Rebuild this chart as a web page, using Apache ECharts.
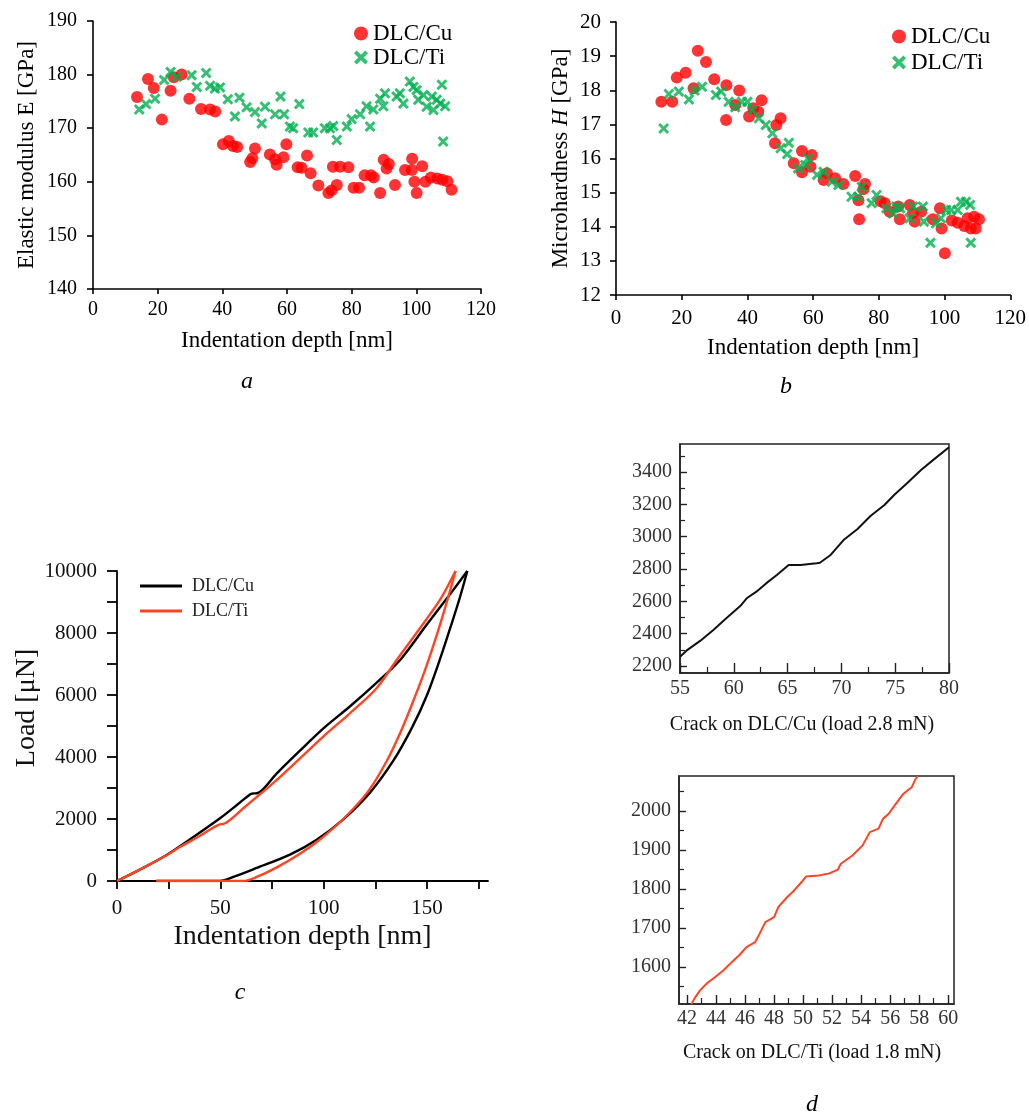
<!DOCTYPE html>
<html>
<head>
<meta charset="utf-8">
<script src="https://cdn.jsdelivr.net/npm/echarts@6/dist/echarts.min.js"></script>
<style>
  html, body { margin: 0; padding: 0; background: #fff; }
  #chart { width: 1029px; height: 1115px; }
</style>
</head>
<body>
<div id="chart"></div>
<script>
const SERIF = '"Liberation Serif", "Times New Roman", serif';

// (a) elastic modulus, [indentation depth nm, E GPa]
const modulusCu = [
  [13.6,175.8],[17.0,179.2],[18.8,177.5],[21.3,171.6],[24.0,177.0],[25.0,179.5],[27.4,180.0],
  [29.8,175.5],[33.4,173.6],[36.2,173.5],[37.8,173.1],[40.2,167.0],[42.0,167.6],[43.3,166.7],
  [44.6,166.5],[48.6,163.7],[49.3,164.4],[50.1,166.2],[54.7,165.1],[56.3,164.2],[56.8,163.2],
  [58.9,164.6],[59.8,167.0],[63.3,162.7],[64.5,162.6],[66.2,164.9],[67.3,161.6],[69.7,159.3],
  [72.8,157.9],[73.8,158.4],[74.2,162.8],[75.4,159.4],[76.4,162.8],[79.0,162.7],[80.6,158.9],
  [82.3,158.9],[84.0,161.2],[86.0,161.2],[86.8,160.8],[88.8,157.9],[89.9,164.1],[90.8,162.5],
  [91.5,163.3],[93.4,159.4],[96.5,162.2],[98.6,162.2],[98.7,164.3],[99.4,160.0],[100.1,157.9],
  [101.8,162.9],[102.8,160.0],[104.5,160.8],[106.5,160.6],[108.0,160.4],[109.6,160.1],[110.9,158.5]
];
const modulusTi = [
  [14.3,173.5],[16.4,174.5],[19.2,175.5],[22.0,179.0],[24.0,180.5],[25.9,179.6],[30.5,179.9],
  [32.1,177.7],[35.0,180.3],[36.2,177.9],[37.7,177.4],[39.3,177.6],[41.7,175.4],[43.9,172.2],
  [45.3,175.7],[47.5,173.9],[50.1,173.0],[52.2,170.9],[53.2,174.0],[56.3,172.6],[58.0,175.9],
  [59.1,172.6],[60.9,170.3],[61.9,170.0],[63.8,174.5],[66.6,169.2],[68.1,169.2],[71.7,170.0],
  [73.3,170.0],[74.3,170.4],[75.4,167.8],[78.5,170.3],[80.0,171.7],[82.6,172.6],[84.6,174.1],
  [85.7,170.3],[86.7,173.5],[88.8,175.5],[89.8,174.1],[90.3,176.5],[93.9,175.9],[94.9,176.5],
  [96.0,174.6],[98.0,178.7],[99.1,177.7],[100.1,177.1],[100.6,175.3],[102.2,176.2],[103.2,174.0],
  [104.8,175.9],[105.3,173.4],[106.3,175.3],[107.4,174.6],[107.9,178.1],[108.3,167.5],[108.9,174.1]
];

// (b) microhardness, [indentation depth nm, H GPa]
const hardnessCu = [
  [13.8,17.66],[17.1,17.66],[18.5,18.37],[21.2,18.51],[23.6,18.06],[24.9,19.16],[27.4,18.83],
  [29.9,18.32],[33.5,17.13],[33.6,18.15],[36.3,17.57],[37.5,17.99],[40.5,17.23],[41.8,17.47],
  [43.3,17.37],[44.3,17.71],[48.4,16.45],[48.8,16.98],[50.1,17.18],[54.1,15.86],[56.6,16.22],
  [56.6,15.60],[59.2,15.76],[59.6,16.10],[63.2,15.37],[64.2,15.57],[66.7,15.42],[69.2,15.25],
  [72.8,15.49],[73.8,14.78],[74.0,14.22],[75.3,15.10],[75.8,15.25],[80.5,14.75],[81.8,14.69],
  [83.3,14.44],[85.9,14.59],[86.4,14.22],[89.4,14.64],[90.4,14.40],[90.9,14.15],[92.9,14.44],
  [96.4,14.22],[98.6,14.54],[99.1,13.95],[100.1,13.22],[102.2,14.18],[104.0,14.12],[106.0,14.02],
  [107.0,14.25],[108.0,13.95],[109.0,14.29],[109.5,13.95],[110.5,14.22]
];
const hardnessTi = [
  [14.5,16.88],[16.1,17.89],[19.1,17.96],[22.2,17.73],[23.9,17.99],[26.2,18.10],[30.4,17.86],
  [32.0,17.96],[34.3,17.66],[36.3,17.50],[38.3,17.66],[40.0,17.66],[41.5,17.42],[43.5,17.18],
  [45.6,16.98],[47.6,16.74],[50.1,16.30],[52.1,16.13],[52.6,16.46],[55.4,15.71],[57.6,15.81],
  [58.4,16.00],[61.2,15.52],[63.2,15.61],[65.7,15.32],[67.7,15.22],[71.7,14.88],[73.8,14.88],
  [74.8,15.17],[77.8,14.69],[79.3,14.93],[82.3,14.54],[84.3,14.39],[85.3,14.59],[86.5,14.54],
  [89.4,14.25],[90.4,14.59],[93.4,14.59],[93.7,14.15],[95.7,13.53],[97.4,14.10],[98.9,14.25],
  [100.5,14.49],[102.0,14.49],[104.0,14.49],[105.0,14.73],[106.5,14.73],[107.8,14.64],[108.0,13.53]
];

// (c) load–displacement curves, [depth nm, load µN]
const loadingCu = [
  [0,0],[12,400],[24,840],[37,1420],[50,2030],[58,2450],[64.5,2800],[66,2825],[67.8,2830],[77,3450],
  [88,4170],[100,4930],[112.5,5620],[125,6360],[137,7130],[150,8280],[160,9150],[169.5,10000]
];
const unloadingCu = [
  [19,0],[49.8,0],[56.3,130],[67.6,420],[83.7,850],[96.6,1330],[109.5,1990],[122.4,2850],
  [133.7,3880],[142.6,4930],[150,6000],[157,7300],[162,8320],[166,9170],[169.5,10000]
];
const loadingTi = [
  [0,0],[12,400],[24,830],[30,1080],[40,1450],[49.8,1830],[51.5,1840],[61,2340],[77.3,3260],
  [99.8,4660],[112.7,5410],[125.6,6220],[135.3,7130],[150,8470],[157,9150],[163.8,10000]
];
const unloadingTi = [
  [19,0],[61.1,0],[67.6,130],[77.3,440],[88.5,880],[98.2,1340],[109.5,2000],[121.6,2900],
  [130.5,3870],[137.7,4880],[144.2,5950],[149.8,6950],[155.5,8100],[159.8,9050],[163.8,10000]
];

// (d) pop-in segments of the loading curves: [depth nm, load µN]
const crackCu = [
  [55.0,2258],[55.6,2295],[56.9,2357],[58.1,2423],[59.3,2495],[60.6,2571],[61.2,2619],
  [62.1,2660],[63.0,2711],[64.0,2763],[65.1,2825],[66.2,2825],[67.7,2835],[68.0,2839],
  [69.0,2887],[70.2,2979],[71.5,3047],[72.7,3128],[74.0,3196],[74.9,3258],[76.1,3330],
  [77.4,3412],[78.6,3478],[80.0,3553]
];
const crackTi = [
  [42.3,1504],[42.5,1518],[42.9,1540],[43.4,1559],[43.9,1573],[44.5,1591],[45.1,1613],
  [45.6,1630],[46.1,1651],[46.7,1664],[47.0,1685],[47.4,1715],[48.0,1728],[48.3,1754],
  [48.9,1779],[49.4,1797],[49.9,1818],[50.2,1832],[51.1,1835],[51.8,1840],[52.4,1850],
  [52.6,1865],[53.4,1886],[54.1,1912],[54.6,1946],[55.2,1955],[55.5,1980],[55.9,1993],
  [56.4,2019],[56.9,2044],[57.5,2062],[57.7,2079],[57.9,2090]
];

// tick positions for the panels with custom ticks
const ticksC_x = [0,25,50,75,100,125,150,175];
const labelsC_x = [0,50,100,150];
const ticksC_y = [0,1000,2000,3000,4000,5000,6000,7000,8000,9000,10000];
const labelsC_y = [0,2000,4000,6000,8000,10000];
const ticksD1_x = [55,60,65,70,75,80];
const minorD1_x = [57.5,62.5,67.5,72.5,77.5];
const ticksD1_y = [2200,2400,2600,2800,3000,3200,3400];
const minorD1_y = [2300,2500,2700,2900,3100,3300,3500];
const ticksD2_x = [42,44,46,48,50,52,54,56,58,60];
const minorD2_x = [43,45,47,49,51,53,55,57,59];
const ticksD2_y = [1600,1700,1800,1900,2000];
const minorD2_y = [1550,1650,1750,1850,1950,2050];

const RED = '#ff0000';
const GREEN = '#00b050';
const ORANGE = '#ff4422';
// filled "x" marker outline
const CROSS = 'path://M1.9,0L5,3.1L8.1,0L10,1.9L6.9,5L10,8.1L8.1,10L5,6.9L1.9,10L0,8.1L3.1,5L0,1.9Z';

const font = (size, color) => ({ fontFamily: SERIF, fontSize: size, color: color || '#000' });
const line = (w, c) => ({ lineStyle: { color: c || '#000', width: w } });
const plainNumber = v => String(v);

function plainAxis(o) {
  return Object.assign({
    type: 'value',
    splitLine: { show: false },
    axisLine: Object.assign({ show: true, onZero: false }, line(1.6)),
    axisTick: Object.assign({ show: true, length: 5 }, line(1.6))
  }, o);
}

// overlay axis that draws only short minor ticks
function minorAxis(o, values, len) {
  return Object.assign({
    type: 'value',
    splitLine: { show: false },
    axisLine: { show: false, onZero: false },
    axisLabel: { show: false },
    axisTick: Object.assign({ show: true, inside: true, length: len, customValues: values }, line(1.2, '#222'))
  }, o);
}

const stripKey = n => n.replace(/^\S+ /, '');

function curve(name, data, color) {
  return {
    type: 'line', name: name, xAxisIndex: 2, yAxisIndex: 2, data: data,
    symbol: 'none', smooth: 0.3, color: color,
    lineStyle: { color: color, width: 2.4 }, silent: true
  };
}

const option = {
  animation: false,
  backgroundColor: '#fff',
  grid: [
    { left: 93, top: 21, width: 388, height: 268 },
    { left: 616, top: 22, width: 397, height: 273 },
    { left: 117, top: 571, width: 371, height: 310 },
    { left: 680, top: 444, width: 269, height: 229, show: true, borderColor: '#222', borderWidth: 1.5 },
    { left: 679, top: 776, width: 275, height: 228, show: true, borderColor: '#222', borderWidth: 1.5 }
  ],
  xAxis: [
    plainAxis({ gridIndex: 0, min: 0, max: 120, interval: 20,
      axisLabel: Object.assign({ margin: 11 }, font(20)),
      name: 'Indentation depth [nm]', nameLocation: 'middle', nameGap: 40, nameTextStyle: font(23) }),
    plainAxis({ gridIndex: 1, min: 0, max: 120, interval: 20,
      axisLabel: Object.assign({ margin: 13 }, font(21)),
      name: 'Indentation depth [nm]', nameLocation: 'middle', nameGap: 41, nameTextStyle: font(23) }),
    plainAxis({ gridIndex: 2, min: 0, max: 179.5,
      axisLine: Object.assign({ show: true, onZero: false }, line(1.8)),
      axisTick: Object.assign({ show: true, length: 8, customValues: ticksC_x }, line(1.8)),
      axisLabel: Object.assign({ margin: 17, customValues: labelsC_x, formatter: plainNumber }, font(21, '#111')),
      name: 'Indentation depth [nm]', nameLocation: 'middle', nameGap: 42, nameTextStyle: font(28, '#111') }),
    plainAxis({ gridIndex: 3, min: 55, max: 80,
      axisLine: Object.assign({ show: true, onZero: false }, line(1.5, '#222')),
      axisTick: Object.assign({ show: true, inside: true, length: 10, customValues: ticksD1_x }, line(1.4, '#222')),
      axisLabel: Object.assign({ margin: 6, customValues: ticksD1_x, formatter: plainNumber }, font(20, '#333')) }),
    plainAxis({ gridIndex: 4, min: 41.45, max: 60.4,
      axisLine: Object.assign({ show: true, onZero: false }, line(1.5, '#222')),
      axisTick: Object.assign({ show: true, inside: true, length: 9, customValues: ticksD2_x }, line(1.4, '#222')),
      axisLabel: Object.assign({ margin: 5, customValues: ticksD2_x, formatter: plainNumber }, font(20, '#333')) }),
    minorAxis({ gridIndex: 3, min: 55, max: 80, position: 'bottom' }, minorD1_x, 6),
    minorAxis({ gridIndex: 4, min: 41.45, max: 60.4, position: 'bottom' }, minorD2_x, 6)
  ],
  yAxis: [
    plainAxis({ gridIndex: 0, min: 140, max: 190, interval: 10,
      axisTick: Object.assign({ show: true, length: 6 }, line(1.6)),
      axisLabel: Object.assign({ margin: 16 }, font(20)),
      name: 'Elastic modulus E [GPa]', nameLocation: 'middle', nameGap: 55, nameTextStyle: font(23) }),
    plainAxis({ gridIndex: 1, min: 12, max: 20, interval: 1,
      axisTick: Object.assign({ show: true, length: 6 }, line(1.6)),
      axisLabel: Object.assign({ margin: 15 }, font(21)),
      name: 'Microhardness {i|H} [GPa]', nameLocation: 'middle', nameGap: 44,
      nameTextStyle: Object.assign({ rich: { i: Object.assign({ fontStyle: 'italic' }, font(23)) } }, font(23)) }),
    plainAxis({ gridIndex: 2, min: 0, max: 10000,
      axisLine: Object.assign({ show: true, onZero: false }, line(1.8)),
      axisTick: Object.assign({ show: true, length: 10, customValues: ticksC_y }, line(1.8)),
      axisLabel: Object.assign({ margin: 20, customValues: labelsC_y, formatter: plainNumber }, font(21, '#111')),
      name: 'Load [μN]', nameLocation: 'middle', nameGap: 76,
      nameTextStyle: Object.assign({ padding: [0, 0, 0, 36] }, font(28, '#111')) }),
    plainAxis({ gridIndex: 3, min: 2157, max: 3573,
      axisLine: Object.assign({ show: true, onZero: false }, line(1.5, '#222')),
      axisTick: Object.assign({ show: true, inside: true, length: 7, customValues: ticksD1_y }, line(1.4, '#222')),
      axisLabel: Object.assign({ margin: 8, customValues: ticksD1_y, formatter: plainNumber }, font(20, '#333')) }),
    minorAxis({ gridIndex: 3, min: 2157, max: 3573, position: 'left' }, minorD1_y, 5),
    plainAxis({ gridIndex: 4, min: 1505, max: 2090,
      axisLine: Object.assign({ show: true, onZero: false }, line(1.5, '#222')),
      axisTick: Object.assign({ show: true, inside: true, length: 7, customValues: ticksD2_y }, line(1.4, '#222')),
      axisLabel: Object.assign({ margin: 8, customValues: ticksD2_y, formatter: plainNumber }, font(20, '#333')) }),
    minorAxis({ gridIndex: 4, min: 1505, max: 2090, position: 'left' }, minorD2_y, 5)
  ],
  legend: [
    { left: 349, top: 17, orient: 'vertical', itemWidth: 14, itemHeight: 14, itemGap: 1,
      data: ['modulus DLC/Cu', 'modulus DLC/Ti'], formatter: stripKey, textStyle: font(23),
      selectedMode: false },
    { left: 887, top: 20, orient: 'vertical', itemWidth: 14, itemHeight: 14, itemGap: 3,
      data: ['hardness DLC/Cu', 'hardness DLC/Ti'], formatter: stripKey, textStyle: font(23),
      selectedMode: false },
    { left: 135, top: 572, orient: 'vertical', itemWidth: 42, itemHeight: 3, itemGap: 7, icon: 'rect',
      data: ['load DLC/Cu', 'load DLC/Ti'], formatter: stripKey,
      textStyle: Object.assign({ padding: [0, 0, 0, 5] }, font(18, '#222')),
      selectedMode: false }
  ],
  series: [
    { type: 'scatter', name: 'modulus DLC/Cu', xAxisIndex: 0, yAxisIndex: 0, data: modulusCu,
      symbol: 'circle', symbolSize: 12, itemStyle: { color: RED }, silent: true },
    { type: 'scatter', name: 'modulus DLC/Ti', xAxisIndex: 0, yAxisIndex: 0, data: modulusTi,
      symbol: CROSS, symbolSize: 11, itemStyle: { color: GREEN }, silent: true },
    { type: 'scatter', name: 'hardness DLC/Cu', xAxisIndex: 1, yAxisIndex: 1, data: hardnessCu,
      symbol: 'circle', symbolSize: 12, itemStyle: { color: RED }, silent: true },
    { type: 'scatter', name: 'hardness DLC/Ti', xAxisIndex: 1, yAxisIndex: 1, data: hardnessTi,
      symbol: CROSS, symbolSize: 11, itemStyle: { color: GREEN }, silent: true },
    curve('load DLC/Cu', loadingCu, '#000'),
    curve('unload DLC/Cu', unloadingCu, '#000'),
    curve('load DLC/Ti', loadingTi, ORANGE),
    curve('unload DLC/Ti', unloadingTi, ORANGE),
    { type: 'line', name: 'pop-in DLC/Cu', xAxisIndex: 3, yAxisIndex: 3, data: crackCu,
      symbol: 'none', color: '#000', lineStyle: { color: '#111', width: 2 }, clip: true, silent: true },
    { type: 'line', name: 'pop-in DLC/Ti', xAxisIndex: 4, yAxisIndex: 5, data: crackTi,
      symbol: 'none', color: ORANGE, lineStyle: { color: ORANGE, width: 2 }, clip: true, silent: true }
  ],
  graphic: [
    { type: 'text', x: 247, y: 382, style: { text: 'a', align: 'center', verticalAlign: 'middle', font: 'italic 24px ' + SERIF, fill: '#000' } },
    { type: 'text', x: 786, y: 387, style: { text: 'b', align: 'center', verticalAlign: 'middle', font: 'italic 24px ' + SERIF, fill: '#000' } },
    { type: 'text', x: 240, y: 993, style: { text: 'c', align: 'center', verticalAlign: 'middle', font: 'italic 24px ' + SERIF, fill: '#000' } },
    { type: 'text', x: 812, y: 1105, style: { text: 'd', align: 'center', verticalAlign: 'middle', font: 'italic 24px ' + SERIF, fill: '#000' } },
    { type: 'text', x: 802, y: 725, style: { text: 'Crack on DLC/Cu (load 2.8 mN)', align: 'center', verticalAlign: 'middle', font: '20px ' + SERIF, fill: '#111' } },
    { type: 'text', x: 812, y: 1053, style: { text: 'Crack on DLC/Ti (load 1.8 mN)', align: 'center', verticalAlign: 'middle', font: '20px ' + SERIF, fill: '#111' } }
  ]
};

const chart = echarts.init(document.getElementById('chart'), null, { renderer: 'canvas' });
chart.setOption(option);
</script>
</body>
</html>
